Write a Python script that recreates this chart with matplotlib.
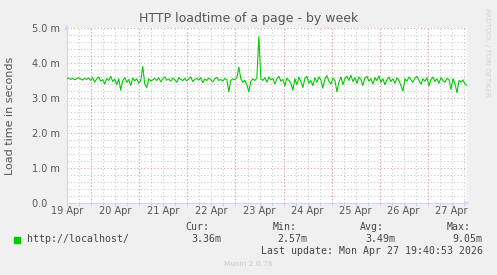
import matplotlib
matplotlib.use("Agg")
import matplotlib.pyplot as plt
import matplotlib.dates as mdates
import matplotlib.ticker as mticker
from matplotlib.patches import Rectangle
import pandas as pd

title = "HTTP loadtime of a page - by week"
ylabel = "Load time in seconds"
series_name = "http://localhost/"
start = "2026-04-19 11:40"   # one reading per hour
load_ms = [
    3.55, 3.57, 3.53, 3.56, 3.52, 3.55, 3.58, 3.54, 3.51, 3.56, 3.53, 3.57,
    3.50, 3.58, 3.45, 3.55, 3.60, 3.48, 3.52, 3.40, 3.56, 3.50, 3.62, 3.47, 3.54,
    3.38, 3.55, 3.22, 3.50, 3.58, 3.45, 3.53, 3.36, 3.57, 3.49, 3.55, 3.42, 3.50,
    3.90,
    3.40, 3.30, 3.55, 3.48, 3.52, 3.56, 3.50, 3.58, 3.46, 3.55, 3.60, 3.51,
    3.54, 3.48, 3.57, 3.52, 3.45, 3.58, 3.53, 3.50, 3.56, 3.49, 3.55, 3.60, 3.47, 3.53, 3.56,
    3.51, 3.58, 3.44, 3.54, 3.50, 3.57, 3.52, 3.46, 3.55, 3.59, 3.50, 3.53, 3.48, 3.56, 3.52,
    3.18,
    3.50, 3.55, 3.52, 3.58,
    3.88,
    3.55, 3.45, 3.50, 3.38,
    3.18,
    3.48, 3.55, 3.50, 3.57,
    4.75,
    3.55, 3.50, 3.58, 3.45, 3.60, 3.52, 3.56, 3.40, 3.55, 3.62, 3.48, 3.53, 3.35, 3.57, 3.50, 3.42,
    3.22,
    3.55, 3.38, 3.60, 3.47, 3.30, 3.56, 3.62, 3.42, 3.50, 3.35, 3.58, 3.45, 3.60, 3.52, 3.28,
    3.55, 3.64, 3.48, 3.40, 3.57, 3.50,
    3.18,
    3.45, 3.60, 3.38, 3.55, 3.62, 3.50, 3.65, 3.47, 3.58, 3.42, 3.60, 3.53, 3.36, 3.57, 3.62, 3.48,
    3.55, 3.40, 3.58, 3.50, 3.63, 3.45, 3.55, 3.38, 3.52, 3.60, 3.47, 3.55, 3.42, 3.58, 3.50, 3.35,
    3.20,
    3.55, 3.48, 3.60, 3.52, 3.45, 3.57, 3.62, 3.50, 3.40, 3.55, 3.48, 3.58, 3.35, 3.52, 3.60, 3.47,
    3.55, 3.42, 3.58, 3.50, 3.45, 3.56, 3.52,
    3.25,
    3.55, 3.40,
    3.15,
    3.50, 3.45, 3.52, 3.40, 3.36,
]
stat_heads = ["Cur:", "Min:", "Avg:", "Max:"]
stat_values = ["3.36m", "2.57m", "3.49m", "9.05m"]
last_update = "Last update: Mon Apr 27 19:40:53 2026"
version = "Munin 2.0.76"

times = pd.date_range(start, periods=len(load_ms), freq="h")
secs = [v / 1000 for v in load_ms]

W, H = 497, 275
fig = plt.figure(figsize=(W / 100, H / 100), dpi=100, facecolor="#f0f0f0")
ax = fig.add_axes([66.7 / W, 72 / H, 400.3 / W, 175 / H])
ax.set_facecolor("white")

ax.plot(times, secs, color="#00cc00", lw=0.8, zorder=3)

ax.set_xlim(times[0], times[-1])
ax.set_ylim(0, 0.005)

# y axis: major every 1m, minor every 0.2m
def ylab(v, pos):
    if abs(v) < 1e-9:
        return "0.0    "   # room where the unit would be
    return f"{v * 1000:.1f} m"

ax.yaxis.set_major_locator(mticker.MultipleLocator(0.001))
ax.yaxis.set_minor_locator(mticker.MultipleLocator(0.0002))
ax.yaxis.set_major_formatter(mticker.FuncFormatter(ylab))

# x axis: labels at noon, grey grid every 6h, red line at midnight
ax.xaxis.set_major_locator(mdates.HourLocator(byhour=12))
ax.xaxis.set_major_formatter(mdates.DateFormatter("%d %b"))
ax.xaxis.set_minor_locator(mdates.HourLocator(byhour=[0, 6, 12, 18]))
ax.xaxis.remove_overlapping_locs = False

red = "#e8a0a0"
grey = "#cccccc"
dots = (0, (1, 2))
ax.grid(False)
ax.yaxis.grid(True, which="major", color=red, ls=dots, lw=0.8, zorder=1)
ax.yaxis.grid(True, which="minor", color=grey, ls=dots, lw=0.8, zorder=0)
ax.xaxis.grid(True, which="minor", color=grey, ls=dots, lw=0.8, zorder=0)
for d in pd.date_range(times[0].ceil("D"), times[-1], freq="D"):
    ax.axvline(d, color=red, ls=dots, lw=0.8, zorder=1)
ax.set_axisbelow(True)

for s in ["top", "right"]:
    ax.spines[s].set_visible(False)
for s in ["left", "bottom"]:
    ax.spines[s].set_color("#cfd6f8")
    ax.spines[s].set_linewidth(0.8)

ax.tick_params(axis="both", which="both", labelsize=7, labelcolor="#555555")
ax.tick_params(axis="y", which="both", length=0, pad=5)
ax.tick_params(axis="x", which="major", length=0, pad=2)
ax.tick_params(axis="x", which="minor", length=2, color=grey)

# axis arrows
ax.annotate("", xy=(0, 1.035), xytext=(0, 0.99), xycoords="axes fraction",
            arrowprops=dict(arrowstyle="-|>", color="#cfd6f8", lw=0.8,
                            mutation_scale=6), annotation_clip=False)
ax.annotate("", xy=(1.012, 0), xytext=(0.99, 0), xycoords="axes fraction",
            arrowprops=dict(arrowstyle="-|>", color="#cfd6f8", lw=0.8,
                            mutation_scale=6), annotation_clip=False)

def fx(x):
    return x / W

def fy(y):
    return 1 - y / H

fig.text(0.5, fy(18.5), title, ha="center", va="center", fontsize=9, color="#555555")
fig.text(fx(10), fy(115.5), ylabel, rotation=90, ha="center", va="center",
         fontsize=8, color="#555555")
fig.text(fx(487), fy(52), "RRDTOOL / TOBI OETIKER", rotation=270, ha="center",
         va="center", fontsize=5, color="#d4d4d4")

mono = "DejaVu Sans Mono"
fig.patches.append(Rectangle((fx(14), fy(243)), 6 / W, 6 / H,
                             transform=fig.transFigure, color="#00cc00"))
fig.text(fx(26.5), fy(239.5), series_name, ha="left", va="center",
         fontsize=7.1, family=mono, color="#444444")
head_left = [185.5, 272.7, 360, 446.7]
val_right = [221, 307.7, 395.7, 482.7]
for h, xl in zip(stat_heads, head_left):
    fig.text(fx(xl), fy(227.5), h, ha="left", va="center", fontsize=7.1,
             family=mono, color="#444444")
for v, xr in zip(stat_values, val_right):
    fig.text(fx(xr), fy(239.5), v, ha="right", va="center", fontsize=7.1,
             family=mono, color="#444444")
fig.text(fx(482.7), fy(251.5), last_update, ha="right", va="center",
         fontsize=7.1, family=mono, color="#444444")
fig.text(fx(247.7), fy(264), version, ha="center", va="center",
         fontsize=5.3, color="#c8c8c8")

fig.savefig("out.png", dpi=100, facecolor=fig.get_facecolor())
